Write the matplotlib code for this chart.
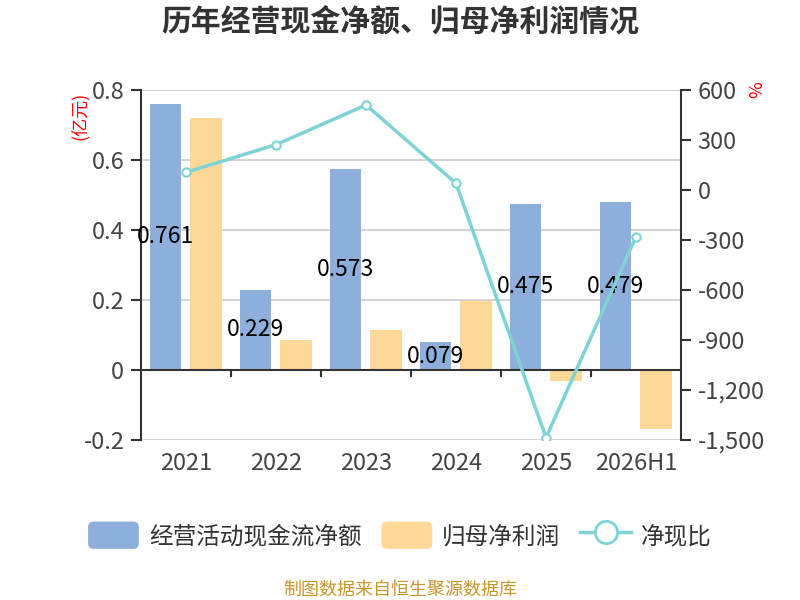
import matplotlib
matplotlib.use('Agg')
import matplotlib.pyplot as plt
from matplotlib.patches import Patch, FancyBboxPatch
from matplotlib.lines import Line2D
from matplotlib.legend_handler import HandlerPatch
import numpy as np

plt.rcParams['font.family'] = ['Noto Sans CJK SC', 'DejaVu Sans']

years = ['2021', '2022', '2023', '2024', '2025', '2026H1']
cash_flow = [0.761, 0.229, 0.573, 0.079, 0.475, 0.479]
net_profit = [0.720, 0.086, 0.114, 0.197, -0.031, -0.169]
cash_ratio = [106, 272, 510, 40, -1486, -280]

blue = '#8eaedb'
orange = '#fed896'
cyan = '#7fd3d6'
axis_col = '#333333'
tick_col = '#444444'


class RoundPatch(HandlerPatch):
    # legend patches with rounded corners
    def create_artists(self, legend, orig_handle, xdescent, ydescent,
                       width, height, fontsize, trans):
        p = FancyBboxPatch((-xdescent, -ydescent), width, height,
                           boxstyle='round,pad=0,rounding_size=4',
                           facecolor=orig_handle.get_facecolor(),
                           edgecolor='none', transform=trans)
        return [p]


fig = plt.figure(figsize=(8, 6), dpi=100)
ax = fig.add_axes([0.17625, 0.2667, 0.675, 0.5833])
ax2 = ax.twinx()

x = np.arange(len(years))
w = 0.345
ax.bar(x - 0.228, cash_flow, w, color=blue, zorder=3)
ax.bar(x + 0.222, net_profit, w, color=orange, zorder=3)

for xi, v in zip(x, cash_flow):
    ax.text(xi - 0.228, v / 2, f'{v:.3f}', ha='center', va='center',
            fontsize=16.5, color='black', zorder=5)

ax.set_xlim(-0.5, len(years) - 0.5)
ax.set_ylim(-0.2, 0.8)
ax.set_yticks([-0.2, 0, 0.2, 0.4, 0.6, 0.8])
ax.set_yticklabels(['-0.2', '0', '0.2', '0.4', '0.6', '0.8'])
ax.grid(axis='y', color='#cccccc', linewidth=1.2, zorder=0)
ax.set_axisbelow(True)

# category labels at the bottom, tick marks between categories on the zero line
ax.set_xticks(x)
ax.set_xticklabels(years)
ax.tick_params(axis='x', length=0, labelsize=17, labelcolor=tick_col, pad=9)
ax.axhline(0, color=axis_col, linewidth=1.5, zorder=4)
for b in x[:-1] + 0.5:
    ax.plot([b, b], [0, -0.016], color=axis_col, linewidth=1.5, zorder=4,
            clip_on=False)

for s in ['top', 'bottom']:
    ax.spines[s].set_visible(False)
    ax2.spines[s].set_visible(False)
ax.spines['left'].set_color(axis_col)
ax.spines['left'].set_linewidth(1.5)
ax2.spines['right'].set_color(axis_col)
ax2.spines['right'].set_linewidth(1.5)
ax2.spines['left'].set_visible(False)
ax.spines['right'].set_visible(False)
ax.tick_params(axis='y', length=7, width=1.5, color=axis_col, pad=5,
               labelsize=17, labelcolor=tick_col)

ax2.plot(x, cash_ratio, color=cyan, linewidth=2.5, marker='o', markersize=6,
         markerfacecolor='white', markeredgecolor=cyan, markeredgewidth=1.5,
         zorder=6)
ax2.set_ylim(-1500, 600)
ax2.set_yticks(range(-1500, 601, 300))
ax2.set_yticklabels([f'{v:,}' for v in range(-1500, 601, 300)])
ax2.tick_params(axis='y', length=7, width=1.5, color=axis_col, pad=5,
                labelsize=17, labelcolor=tick_col)

fig.text(0.5, 0.962, '历年经营现金净额、归母净利润情况', ha='center', va='center',
         fontsize=21.5, fontweight='bold', color='#333333')
fig.text(0.099, 0.8075, '(亿元)', rotation=90, ha='center', va='center',
         fontsize=13, color='red')
fig.text(0.946, 0.85, '%', rotation=90, ha='center', va='center',
         fontsize=13, color='red')

handles = [
    Patch(facecolor=blue, edgecolor='none'),
    Patch(facecolor=orange, edgecolor='none'),
    Line2D([], [], color=cyan, linewidth=2.5, marker='o', markersize=16,
           markerfacecolor='white', markeredgecolor=cyan, markeredgewidth=2),
]
fig.legend(handles, ['经营活动现金流净额', '归母净利润', '净现比'],
           loc='center', bbox_to_anchor=(0.5, 0.108), ncol=3, frameon=False,
           fontsize=17, handlelength=2.15, handleheight=1.4,
           columnspacing=0.85, handletextpad=0.42, labelcolor='#333333',
           handler_map={Patch: RoundPatch()})

fig.text(0.5, 0.017, '制图数据来自恒生聚源数据库', ha='center', va='center',
         fontsize=13, color='#c8962a')

fig.savefig('out.png', dpi=100)
